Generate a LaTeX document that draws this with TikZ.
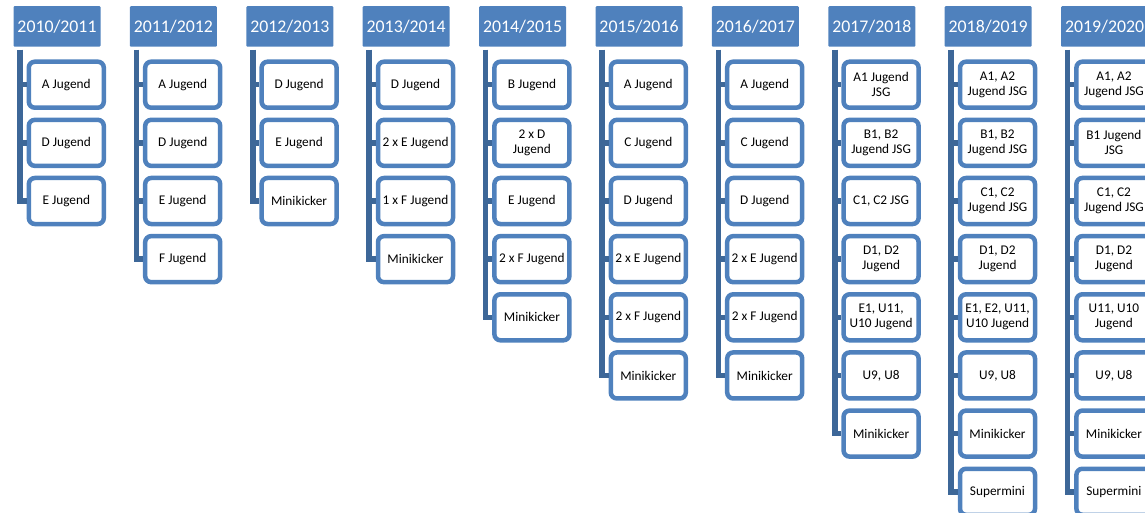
\documentclass[tikz,border=0pt]{standalone}
\usepackage{fontspec}
\setmainfont{Carlito}
\usetikzlibrary{positioning}
\definecolor{hdblue}{HTML}{4F81BD}
\definecolor{boxblue}{HTML}{4F81BD}
\definecolor{trunkblue}{HTML}{3D6798}
\tikzset{
  year/.style={fill=hdblue, text=white, rounded corners=1pt, minimum width=87pt, minimum height=40.5pt, inner sep=0pt, font=\fontsize{17.8}{20}\selectfont},
  team/.style={draw=boxblue, fill=white, line width=4.5pt, rounded corners=6pt, minimum width=75pt, minimum height=46pt, inner sep=1pt, align=center, font=\fontsize{13.3}{15}\selectfont},
  trunk/.style={draw=trunkblue, line width=5.5pt},
  gap/.style={below=7.65pt of #1}
}
\begin{document}
\begin{tikzpicture}[x=1pt,y=-1pt]
    \useasboundingbox (0,0) rectangle (1145,513);
    \clip (0,0) rectangle (1145,513);

    \node[year] (y10) at (57,26.5) {2010/2011};
    \node[team] (y10a) at (66.3,84.7) {A Jugend};
    \node[team,gap=y10a] (y10b) {D Jugend};
    \node[team,gap=y10b] (y10c) {E Jugend};
    \coordinate (t10) at ([xshift=6.7pt,yshift=-2.6pt]y10.south west);
    \draw[trunk] (t10) |- (y10a.west) (t10) |- (y10b.west) (t10) |- (y10c.west);

    \node[year] (y11) at (173.4,26.5) {2011/2012};
    \node[team] (y11a) at (182.7,84.7) {A Jugend};
    \node[team,gap=y11a] (y11b) {D Jugend};
    \node[team,gap=y11b] (y11c) {E Jugend};
    \node[team,gap=y11c] (y11d) {F Jugend};
    \coordinate (t11) at ([xshift=6.7pt,yshift=-2.6pt]y11.south west);
    \draw[trunk] (t11) |- (y11a.west) (t11) |- (y11b.west) (t11) |- (y11c.west) (t11) |- (y11d.west);

    \node[year] (y12) at (289.8,26.5) {2012/2013};
    \node[team] (y12a) at (299.1,84.7) {D Jugend};
    \node[team,gap=y12a] (y12b) {E Jugend};
    \node[team,gap=y12b] (y12c) {Minikicker};
    \coordinate (t12) at ([xshift=6.7pt,yshift=-2.6pt]y12.south west);
    \draw[trunk] (t12) |- (y12a.west) (t12) |- (y12b.west) (t12) |- (y12c.west);

    \node[year] (y13) at (406.2,26.5) {2013/2014};
    \node[team] (y13a) at (415.5,84.7) {D Jugend};
    \node[team,gap=y13a] (y13b) {2 x E Jugend};
    \node[team,gap=y13b] (y13c) {1 x F Jugend};
    \node[team,gap=y13c] (y13d) {Minikicker};
    \coordinate (t13) at ([xshift=6.7pt,yshift=-2.6pt]y13.south west);
    \draw[trunk] (t13) |- (y13a.west) (t13) |- (y13b.west) (t13) |- (y13c.west) (t13) |- (y13d.west);

    \node[year] (y14) at (522.6,26.5) {2014/2015};
    \node[team] (y14a) at (531.9,84.7) {B Jugend};
    \node[team,gap=y14a] (y14b) {2 x D\\Jugend};
    \node[team,gap=y14b] (y14c) {E Jugend};
    \node[team,gap=y14c] (y14d) {2 x F Jugend};
    \node[team,gap=y14d] (y14e) {Minikicker};
    \coordinate (t14) at ([xshift=6.7pt,yshift=-2.6pt]y14.south west);
    \draw[trunk] (t14) |- (y14a.west) (t14) |- (y14b.west) (t14) |- (y14c.west) (t14) |- (y14d.west) (t14) |- (y14e.west);

    \node[year] (y15) at (639,26.5) {2015/2016};
    \node[team] (y15a) at (648.3,84.7) {A Jugend};
    \node[team,gap=y15a] (y15b) {C Jugend};
    \node[team,gap=y15b] (y15c) {D Jugend};
    \node[team,gap=y15c] (y15d) {2 x E Jugend};
    \node[team,gap=y15d] (y15e) {2 x F Jugend};
    \node[team,gap=y15e] (y15f) {Minikicker};
    \coordinate (t15) at ([xshift=6.7pt,yshift=-2.6pt]y15.south west);
    \draw[trunk] (t15) |- (y15a.west) (t15) |- (y15b.west) (t15) |- (y15c.west) (t15) |- (y15d.west) (t15) |- (y15e.west) (t15) |- (y15f.west);

    \node[year] (y16) at (755.4,26.5) {2016/2017};
    \node[team] (y16a) at (764.7,84.7) {A Jugend};
    \node[team,gap=y16a] (y16b) {C Jugend};
    \node[team,gap=y16b] (y16c) {D Jugend};
    \node[team,gap=y16c] (y16d) {2 x E Jugend};
    \node[team,gap=y16d] (y16e) {2 x F Jugend};
    \node[team,gap=y16e] (y16f) {Minikicker};
    \coordinate (t16) at ([xshift=6.7pt,yshift=-2.6pt]y16.south west);
    \draw[trunk] (t16) |- (y16a.west) (t16) |- (y16b.west) (t16) |- (y16c.west) (t16) |- (y16d.west) (t16) |- (y16e.west) (t16) |- (y16f.west);

    \node[year] (y17) at (871.8,26.5) {2017/2018};
    \node[team] (y17a) at (881.1,84.7) {A1 Jugend\\JSG};
    \node[team,gap=y17a] (y17b) {B1, B2\\Jugend JSG};
    \node[team,gap=y17b] (y17c) {C1, C2 JSG};
    \node[team,gap=y17c] (y17d) {D1, D2\\Jugend};
    \node[team,gap=y17d] (y17e) {E1, U11,\\U10 Jugend};
    \node[team,gap=y17e] (y17f) {U9, U8};
    \node[team,gap=y17f] (y17g) {Minikicker};
    \coordinate (t17) at ([xshift=6.7pt,yshift=-2.6pt]y17.south west);
    \draw[trunk] (t17) |- (y17a.west) (t17) |- (y17b.west) (t17) |- (y17c.west) (t17) |- (y17d.west) (t17) |- (y17e.west) (t17) |- (y17f.west) (t17) |- (y17g.west);

    \node[year] (y18) at (988.2,26.5) {2018/2019};
    \node[team] (y18a) at (997.5,84.7) {A1, A2\\Jugend JSG};
    \node[team,gap=y18a] (y18b) {B1, B2\\Jugend JSG};
    \node[team,gap=y18b] (y18c) {C1, C2\\Jugend JSG};
    \node[team,gap=y18c] (y18d) {D1, D2\\Jugend};
    \node[team,gap=y18d] (y18e) {E1, E2, U11,\\U10 Jugend};
    \node[team,gap=y18e] (y18f) {U9, U8};
    \node[team,gap=y18f] (y18g) {Minikicker};
    \node[team,gap=y18g] (y18h) {Supermini};
    \coordinate (t18) at ([xshift=6.7pt,yshift=-2.6pt]y18.south west);
    \draw[trunk] (t18) |- (y18a.west) (t18) |- (y18b.west) (t18) |- (y18c.west) (t18) |- (y18d.west) (t18) |- (y18e.west) (t18) |- (y18f.west) (t18) |- (y18g.west) (t18) |- (y18h.west);

    \node[year] (y19) at (1104.6,26.5) {2019/2020};
    \node[team] (y19a) at (1113.9,84.7) {A1, A2\\Jugend JSG};
    \node[team,gap=y19a] (y19b) {B1 Jugend\\JSG};
    \node[team,gap=y19b] (y19c) {C1, C2\\Jugend JSG};
    \node[team,gap=y19c] (y19d) {D1, D2\\Jugend};
    \node[team,gap=y19d] (y19e) {U11, U10\\Jugend};
    \node[team,gap=y19e] (y19f) {U9, U8};
    \node[team,gap=y19f] (y19g) {Minikicker};
    \node[team,gap=y19g] (y19h) {Supermini};
    \coordinate (t19) at ([xshift=6.7pt,yshift=-2.6pt]y19.south west);
    \draw[trunk] (t19) |- (y19a.west) (t19) |- (y19b.west) (t19) |- (y19c.west) (t19) |- (y19d.west) (t19) |- (y19e.west) (t19) |- (y19f.west) (t19) |- (y19g.west) (t19) |- (y19h.west);
\end{tikzpicture}
\end{document}
